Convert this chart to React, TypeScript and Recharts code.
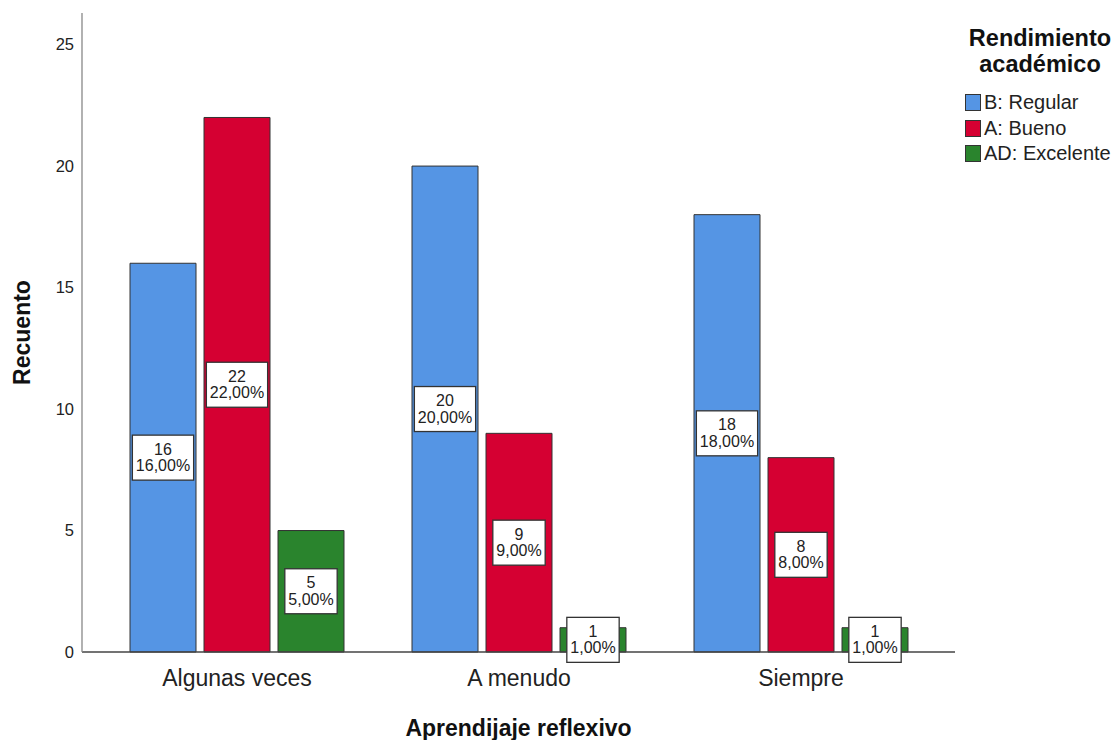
import { Bar, BarChart, LabelList, XAxis, YAxis } from "recharts";

const categories = ["Algunas veces", "A menudo", "Siempre"];
const regular = [16, 20, 18];
const bueno = [22, 9, 8];
const excelente = [5, 1, 1];
const yTicks = [0, 5, 10, 15, 20, 25];

const series = [
  { key: "regular", name: "B: Regular", color: "#5595E4" },
  { key: "bueno", name: "A: Bueno", color: "#D50032" },
  { key: "excelente", name: "AD: Excelente", color: "#2A842D" },
];

const chartData = categories.map((name, i) => ({
  name,
  regular: regular[i],
  bueno: bueno[i],
  excelente: excelente[i],
}));

const total = [...regular, ...bueno, ...excelente].reduce((a, b) => a + b, 0);

const FONT = "'Liberation Sans', Arial, sans-serif";

function charWidth(ch: string) {
  if (ch === ",") return 4.45;
  if (ch === "%") return 14.2;
  return 8.9;
}

function textWidth(s: string) {
  return s.split("").reduce((w, ch) => w + charWidth(ch), 0);
}

function CountLabel(props: any) {
  const { x, y, width, height, value } = props;
  const pct = `${((Number(value) / total) * 100).toFixed(2).replace(".", ",")}%`;
  const w = Math.max(textWidth(String(value)), textWidth(pct)) + 7;
  const cx = Number(x) + Number(width) / 2;
  const cy = Number(y) + Number(height) / 2;
  return (
    <g>
      <rect
        x={cx - w / 2}
        y={cy - 22.5}
        width={w}
        height={45}
        fill="#ffffff"
        stroke="#333333"
        strokeWidth={1.3}
      />
      <text x={cx} y={cy - 3} textAnchor="middle" fontSize={16} fill="#222" fontFamily={FONT}>
        {value}
      </text>
      <text x={cx} y={cy + 13.5} textAnchor="middle" fontSize={16} fill="#222" fontFamily={FONT}>
        {pct}
      </text>
    </g>
  );
}

// legend sits outside the svg so it does not shrink the plot
function LegendBox() {
  return (
    <div style={{ position: "absolute", left: 965, top: 25, fontFamily: FONT, color: "#111" }}>
      <div
        style={{
          fontWeight: "bold",
          fontSize: 23.5,
          lineHeight: "26px",
          textAlign: "center",
          width: 150,
        }}
      >
        Rendimiento
        <br />
        académico
      </div>
      <div style={{ marginTop: 13 }}>
        {series.map((s) => (
          <div
            key={s.key}
            style={{ display: "flex", alignItems: "center", height: 25.5, fontSize: 20, color: "#222", whiteSpace: "nowrap" }}
          >
            <span
              style={{
                display: "inline-block",
                width: 14,
                height: 15,
                background: s.color,
                border: "1px solid #333",
                marginRight: 3,
              }}
            />
            {s.name}
          </div>
        ))}
      </div>
    </div>
  );
}

export default function App() {
  return (
    <div style={{ position: "absolute", left: 0, top: 0, width: 1119, height: 740, background: "#fff", overflow: "hidden" }}>
      <BarChart
        width={1119}
        height={740}
        data={chartData}
        margin={{ top: 13, right: 164, left: 0, bottom: 0 }}
        barSize={66}
        barGap={8}
      >
        <XAxis
          dataKey="name"
          height={88}
          padding={{ left: 14, right: 13 }}
          axisLine={{ stroke: "#444", strokeWidth: 1.3 }}
          tickLine={false}
          tickSize={0}
          tickMargin={18}
          tick={{ fill: "#222", fontSize: 23, fontFamily: FONT }}
          label={{
            value: "Aprendijaje reflexivo",
            position: "insideBottom",
            offset: 4,
            style: { fontWeight: "bold", fontSize: 23, fill: "#111", fontFamily: FONT },
          }}
        />
        <YAxis
          width={82}
          domain={[0, 26.3]}
          ticks={yTicks}
          axisLine={{ stroke: "#888", strokeWidth: 1.3 }}
          tickLine={false}
          tickSize={0}
          tickMargin={8}
          tick={{ fill: "#222", fontSize: 16.5, fontFamily: FONT }}
          label={{
            value: "Recuento",
            angle: -90,
            position: "insideLeft",
            offset: 22,
            style: { textAnchor: "middle", fontWeight: "bold", fontSize: 23, fill: "#111", fontFamily: FONT },
          }}
        />
        {series.map((s) => (
          <Bar
            key={s.key}
            dataKey={s.key}
            name={s.name}
            fill={s.color}
            stroke="#333"
            strokeWidth={1}
            isAnimationActive={false}
          >
            <LabelList dataKey={s.key} content={CountLabel} />
          </Bar>
        ))}
      </BarChart>
      <LegendBox />
    </div>
  );
}
